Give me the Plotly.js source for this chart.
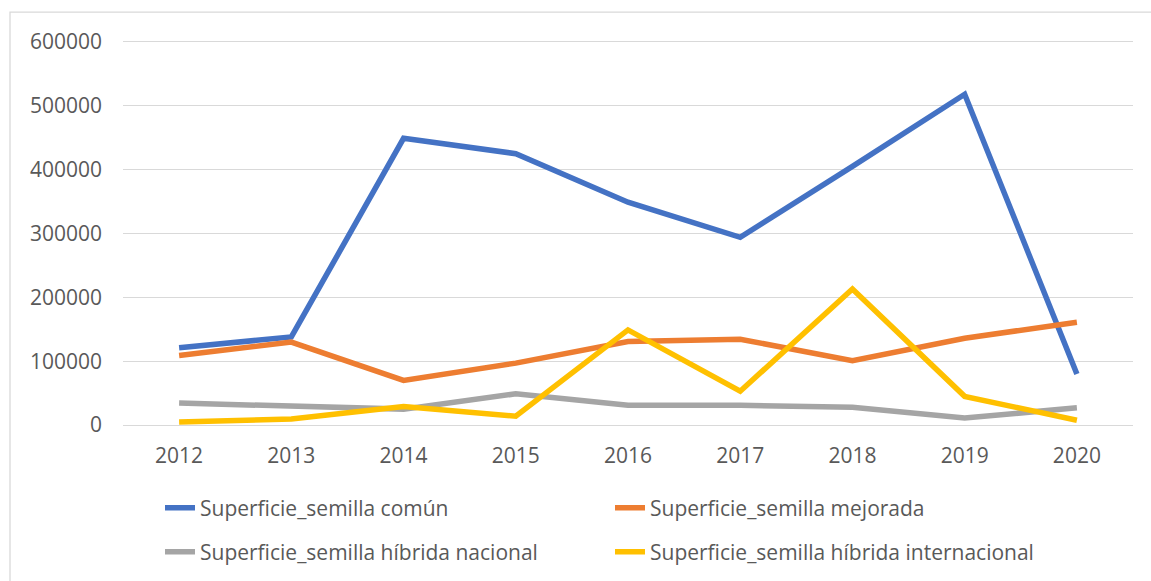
<!DOCTYPE html>
<html>
<head>
<meta charset="utf-8">
<script src="https://cdn.plot.ly/plotly-3.0.1.min.js"></script>
<style>html,body{margin:0;padding:0;background:#fff}#chart{width:1151px;height:581px}</style>
</head>
<body>
<div id="chart"></div>
<script>
var years = ['2012','2013','2014','2015','2016','2017','2018','2019','2020'];
var comun = [121000, 138000, 449000, 425000, 349000, 294000, 405000, 518000, 80000];
var mejorada = [109000, 130000, 70000, 97000, 131000, 134500, 101000, 136000, 161000];
var hibridaNacional = [34500, 29000, 25000, 49000, 31000, 31000, 28000, 11000, 27000];
var hibridaInternacional = [5000, 9500, 29000, 14000, 149000, 53000, 213000, 45000, 7500];
var names = ['Superficie_semilla común','Superficie_semilla mejorada','Superficie_semilla híbrida nacional','Superficie_semilla híbrida internacional'];
var colors = ['#4472C4','#ED7D31','#A5A5A5','#FFC000'];
var series = [comun, mejorada, hibridaNacional, hibridaInternacional];
var legends = ['legend','legend','legend2','legend2'];

var traces = series.map(function(s,i){
  return {x: years, y: s, type:'scatter', mode:'lines', name:names[i],
    line:{color:colors[i], width:5.5, shape:'linear'}, legend:legends[i], hoverinfo:'x+y+name'};
});

var fontColor = '#595959';
var fontFam = '"Open Sans", "Liberation Sans", sans-serif';
var fs = 21;
var legendCommon = {orientation:'h', xanchor:'left', yanchor:'middle', xref:'container', yref:'container', x:160/1151,
  font:{family:fontFam, size:fs, color:fontColor}, entrywidth:405, entrywidthmode:'pixels',
  bgcolor:'rgba(0,0,0,0)', borderwidth:0, traceorder:'normal'};

var layout = {
  width:1151, height:581,
  margin:{l:123, r:18, t:40, b:153.5, pad:0},
  paper_bgcolor:'#ffffff', plot_bgcolor:'#ffffff',
  font:{family:fontFam, size:fs, color:fontColor},
  showlegend:true,
  legend: Object.assign({}, legendCommon, {y:1-508/581}),
  legend2: Object.assign({}, legendCommon, {y:1-552/581}),
  xaxis:{type:'category', range:[-0.5, 8.5], showgrid:false, zeroline:false, showline:false,
    ticks:'', tickfont:{family:fontFam, size:fs, color:fontColor}, ticklabelstandoff:14, fixedrange:true},
  yaxis:{range:[-3000, 603000], dtick:100000, tick0:0, showgrid:true, gridcolor:'#d9d9d9', gridwidth:1.3,
    zeroline:true, zerolinecolor:'#d9d9d9', zerolinewidth:1.3, showline:false, ticks:'',
    tickformat:'d', separatethousands:false,
    tickfont:{family:fontFam, size:fs, color:fontColor}, ticklabelstandoff:20, fixedrange:true},
  shapes:[{type:'rect', xref:'paper', yref:'paper', x0:(10-123)/1010, x1:1.2, y0:-0.6, y1:1+28/387.5,
    line:{color:'#d9d9d9', width:1.3}, fillcolor:'rgba(0,0,0,0)', layer:'below'}]
};

Plotly.newPlot('chart', traces, layout, {displayModeBar:false});
</script>
</body>
</html>
